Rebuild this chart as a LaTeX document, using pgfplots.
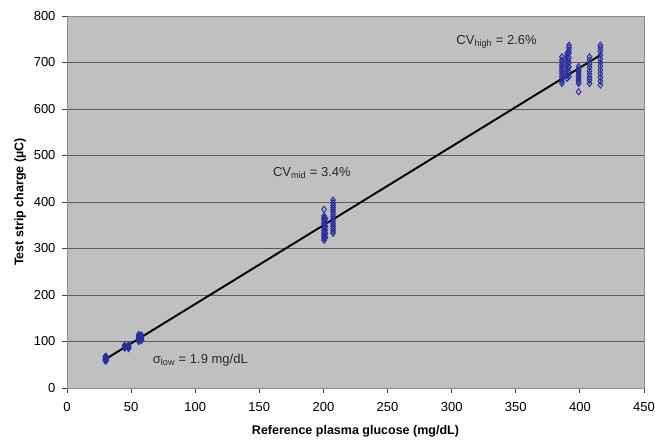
\documentclass[border=0pt]{standalone}
\usepackage{fontspec}
\setmainfont{Liberation Sans}
\usepackage{pgfplots}
\pgfplotsset{compat=1.18}
\definecolor{bg}{RGB}{192,192,192}
\definecolor{gridc}{RGB}{105,85,80}
\definecolor{mk}{RGB}{40,48,160}
\definecolor{txt}{RGB}{40,40,40}
\begin{document}
\begin{tikzpicture}
\begin{axis}[
  scale only axis, width=577pt, height=372pt,
  xmin=0, xmax=450, ymin=0, ymax=800,
  xtick distance=50, ytick distance=100,
  xtick pos=bottom, ytick pos=left,
  tick align=outside, major tick length=5pt,
  tick style={draw=black!75, line width=0.8pt},
  axis line style={draw=black!45, line width=0.8pt},
  axis background/.style={fill=bg},
  ymajorgrids, grid style={draw=gridc, line width=0.9pt},
  /pgf/number format/assume math mode=true,
  tick label style={font=\fontsize{13}{15}\selectfont, text=black},
  xticklabel style={yshift=-6pt},
  yticklabel style={xshift=-3pt},
  xlabel={\bfseries Reference plasma glucose (mg/dL)},
  ylabel={\bfseries Test strip charge (µC)},
  label style={font=\fontsize{12.5}{14}\selectfont},
  xlabel style={yshift=-7pt},
  ylabel style={yshift=1pt},
]
\addplot[only marks, mark=diamond, mark size=3.1pt, mark options={draw=mk, line width=1pt, fill=none}] coordinates {
(30,58) (30,60) (30,62) (30,64) (30,66) (30,68) (30.6,59) (30.6,63) (30.6,67)
(45,86) (45,88) (45,90) (45,92) (48,85) (48,87) (48,89) (48,91) (48,93)
(56,100) (56,103) (56,106) (56,109) (56,112) (56,115) (58,102) (58,105) (58,108) (58,111) (58,114)
(200.5,318) (200.5,322) (200.5,326) (200.5,330) (200.5,334) (200.5,338) (200.5,342) (200.5,346) (200.5,350) (200.5,354) (200.5,358) (200.5,362) (200.5,366) (200.5,370) (200.5,384)
(201.6,324) (201.6,332) (201.6,340) (201.6,348) (201.6,356) (201.6,364)
(207.5,333) (207.5,338) (207.5,343) (207.5,348) (207.5,353) (207.5,358) (207.5,363) (207.5,368) (207.5,373) (207.5,378) (207.5,383) (207.5,388) (207.5,393) (207.5,398) (207.5,404)
(386,655) (386,660) (386,665) (386,670) (386,675) (386,680) (386,685) (386,690) (386,695) (386,700) (386,705) (386,712)
(390,666) (390,672) (390,678) (390,684) (390,690) (390,696) (390,702) (390,708) (390,714) (390,720)
(391.5,670) (391.5,680) (391.5,690) (391.5,700) (391.5,710) (391.5,720) (391.5,726) (391.5,732) (391.5,737)
(399,637) (399,655) (399,660) (399,665) (399,670) (399,675) (399,680) (399,685) (399,691)
(407.5,655) (407.5,662) (407.5,668) (407.5,675) (407.5,682) (407.5,690) (407.5,697) (407.5,705) (407.5,712)
(416,652) (416,660) (416,668) (416,676) (416,684) (416,692) (416,700) (416,708) (416,716) (416,724) (416,731) (416,737)
};
\addplot[black, line width=1.9pt] coordinates {(30,62) (416,716)};
\node[text=txt, font=\fontsize{13}{15}\selectfont] at (axis cs:335,744) {CV\textsubscript{high} = 2.6\%};
\node[text=txt, font=\fontsize{13}{15}\selectfont] at (axis cs:191,462) {CV\textsubscript{mid} = 3.4\%};
\node[text=txt, font=\fontsize{13}{15}\selectfont] at (axis cs:104,60) {σ\textsubscript{low} = 1.9 mg/dL};
\coordinate (A) at (rel axis cs:0,0);
\coordinate (B) at (rel axis cs:1,1);
\end{axis}
\pgfresetboundingbox
\path (A) ++(-67pt,-51pt) coordinate (P);
\path (B) ++(11pt,16pt) coordinate (Q);
\useasboundingbox (P) rectangle (Q);
\end{tikzpicture}
\end{document}
